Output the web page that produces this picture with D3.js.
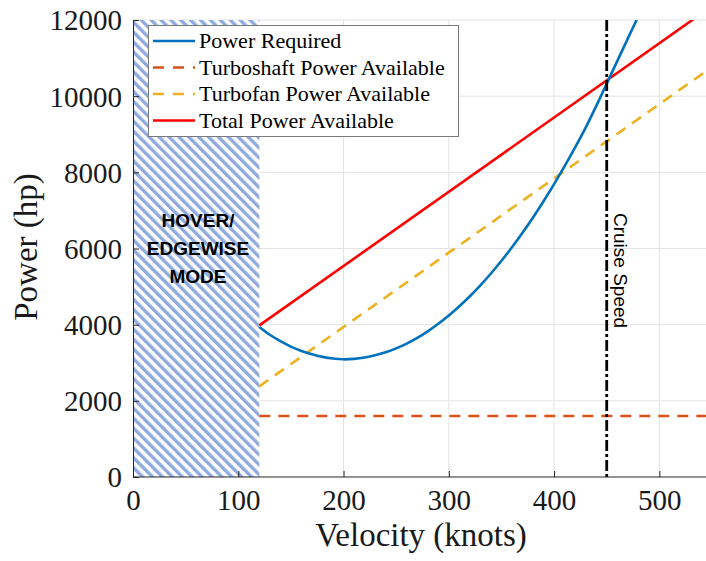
<!DOCTYPE html>
<html>
<head>
<meta charset="utf-8">
<script src="https://cdn.jsdelivr.net/npm/d3@7"></script>
<style>
  body { margin: 0; background: #fff; }
  svg { display: block; }
</style>
</head>
<body>
<div id="chart"></div>
<script>
// power required curve (knots, hp)
const reqVelocity = [120, 130, 140, 150, 160, 170, 180, 190, 200, 210, 220, 230, 240, 250, 260, 270, 280, 290,
    300, 310, 320, 330, 340, 350, 360, 370, 380, 390, 400, 410, 420, 430, 440, 450, 460, 470, 480];
const powerRequired = [3940, 3735, 3565, 3425, 3311, 3221, 3154, 3110, 3090, 3102, 3136, 3194, 3274, 3378, 3504, 3654, 3826, 4022,
    4240, 4482, 4746, 5034, 5344, 5678, 6034, 6414, 6816, 7242, 7690, 8162, 8656, 9174, 9740, 10330, 10920, 11510, 12100];

// available power lines
const availVelocity = [120, 550];
const turboshaftPower = [1600, 1600];
const turbofanPower = [2380, 10765];
const totalPower = [3980, 12365];

const hoverLimit = 120;
const cruiseSpeed = 450;

const xTicks = [0, 100, 200, 300, 400, 500];
const yTicks = [0, 2000, 4000, 6000, 8000, 10000, 12000];

const seriesNames = ["Power Required", "Turboshaft Power Available", "Turbofan Power Available", "Total Power Available"];
const seriesColors = ["#0072BD", "#D95319", "#EDB120", "#FF0000"];
const seriesDash = [null, "11,8", "11,8", null];

const W = 706, H = 561;
const mLeft = 133, mTop = 20, mBottom = 477, mRight = 712;

const x = d3.scaleLinear().domain([0, 550]).range([mLeft, mRight]);
const y = d3.scaleLinear().domain([0, 12000]).range([mBottom, mTop]);

const svg = d3.select("#chart").append("svg")
    .attr("width", W).attr("height", H);

const defs = svg.append("defs");
defs.append("clipPath").attr("id", "clip")
    .append("rect")
    .attr("x", mLeft).attr("y", mTop)
    .attr("width", mRight - mLeft).attr("height", mBottom - mTop);

const pat = defs.append("pattern")
    .attr("id", "hatch")
    .attr("patternUnits", "userSpaceOnUse")
    .attr("width", 7).attr("height", 7)
    .attr("patternTransform", "rotate(-45)");
pat.append("rect").attr("width", 7).attr("height", 7).attr("fill", "#fff");
pat.append("rect").attr("width", 3.4).attr("height", 7).attr("fill", "#8FAADC");

// grid
svg.append("g")
    .selectAll("line")
    .data(xTicks.slice(1))
    .join("line")
    .attr("x1", d => x(d)).attr("x2", d => x(d))
    .attr("y1", mTop).attr("y2", mBottom)
    .attr("stroke", "#e3e3e3").attr("stroke-width", 1);
svg.append("g")
    .selectAll("line")
    .data(yTicks.slice(1))
    .join("line")
    .attr("x1", mLeft).attr("x2", W)
    .attr("y1", d => y(d)).attr("y2", d => y(d))
    .attr("stroke", "#e3e3e3").attr("stroke-width", 1);

// hover region
svg.append("rect")
    .attr("x", x(0)).attr("y", y(12000))
    .attr("width", x(hoverLimit) - x(0))
    .attr("height", y(0) - y(12000))
    .attr("fill", "url(#hatch)");

const hoverText = svg.append("text")
    .attr("font-family", "Liberation Sans, Arial, sans-serif")
    .attr("font-weight", "bold")
    .attr("font-size", 19)
    .attr("text-anchor", "middle")
    .attr("fill", "#000");
["HOVER/", "EDGEWISE", "MODE"].forEach((t, i) => {
    hoverText.append("tspan").attr("x", 198).attr("y", 227 + i * 28).text(t);
});

const plot = svg.append("g").attr("clip-path", "url(#clip)");

const line = d3.line().x(d => x(d[0])).y(d => y(d[1]));
const smooth = d3.line().x(d => x(d[0])).y(d => y(d[1])).curve(d3.curveCatmullRom);

const availSeries = [turboshaftPower, turbofanPower, totalPower];
availSeries.forEach((vals, i) => {
    plot.append("path")
        .datum(availVelocity.map((v, j) => [v, vals[j]]))
        .attr("fill", "none")
        .attr("stroke", seriesColors[i + 1])
        .attr("stroke-width", 2.6)
        .attr("stroke-dasharray", seriesDash[i + 1])
        .attr("d", line);
});

plot.append("path")
    .datum(reqVelocity.map((v, j) => [v, powerRequired[j]]))
    .attr("fill", "none")
    .attr("stroke", seriesColors[0])
    .attr("stroke-width", 2.6)
    .attr("d", smooth);

// cruise speed
plot.append("line")
    .attr("x1", x(cruiseSpeed)).attr("x2", x(cruiseSpeed))
    .attr("y1", mTop).attr("y2", mBottom)
    .attr("stroke", "#000").attr("stroke-width", 2.8)
    .attr("stroke-dasharray", "11,3,3,3");

svg.append("text")
    .attr("transform", `translate(614,213) rotate(90)`)
    .attr("font-family", "Liberation Sans, Arial, sans-serif")
    .attr("font-size", 19)
    .attr("fill", "#000")
    .text("Cruise Speed");

// axes
const xAxis = svg.append("g")
    .attr("transform", `translate(0,${mBottom})`)
    .call(d3.axisBottom(x).tickValues(xTicks).tickFormat(d3.format("d"))
        .tickSize(-6).tickPadding(12).tickSizeOuter(0));
const yAxis = svg.append("g")
    .attr("transform", `translate(${mLeft},0)`)
    .call(d3.axisLeft(y).tickValues(yTicks).tickFormat(d3.format("d"))
        .tickSize(-6).tickPadding(11).tickSizeOuter(0));

[xAxis, yAxis].forEach(g => {
    g.select(".domain").attr("stroke", "#262626").attr("stroke-width", 1);
    g.selectAll(".tick line").attr("stroke", "#262626");
    g.selectAll(".tick text")
        .attr("font-family", "Liberation Serif, Times New Roman, serif")
        .attr("font-size", 29)
        .attr("fill", "#1a1a1a");
});
xAxis.select(".domain").attr("d", `M${mLeft},0H${W}`);
yAxis.selectAll(".tick text").attr("dy", "0.34em");
xAxis.selectAll(".tick text").attr("dy", "0.72em");

svg.append("text")
    .attr("x", 421).attr("y", 546)
    .attr("text-anchor", "middle")
    .attr("font-family", "Liberation Serif, Times New Roman, serif")
    .attr("font-size", 33)
    .attr("fill", "#1a1a1a")
    .text("Velocity (knots)");

svg.append("text")
    .attr("transform", `translate(37,247) rotate(-90)`)
    .attr("text-anchor", "middle")
    .attr("font-family", "Liberation Serif, Times New Roman, serif")
    .attr("font-size", 33)
    .attr("fill", "#1a1a1a")
    .text("Power (hp)");

// legend
const legend = svg.append("g");
legend.append("rect")
    .attr("x", 148.5).attr("y", 25.5)
    .attr("width", 310).attr("height", 111)
    .attr("fill", "#fff")
    .attr("stroke", "#7a7a7a").attr("stroke-width", 1);
seriesNames.forEach((name, i) => {
    const cy = 41 + i * 26.5;
    legend.append("line")
        .attr("x1", 153).attr("x2", 195)
        .attr("y1", cy).attr("y2", cy)
        .attr("stroke", seriesColors[i])
        .attr("stroke-width", 2.6)
        .attr("stroke-dasharray", seriesDash[i] ? "11,9" : null);
    legend.append("text")
        .attr("x", 199).attr("y", cy + 7)
        .attr("font-family", "Liberation Serif, Times New Roman, serif")
        .attr("font-size", 22)
        .attr("fill", "#000")
        .text(name);
});
</script>
</body>
</html>
